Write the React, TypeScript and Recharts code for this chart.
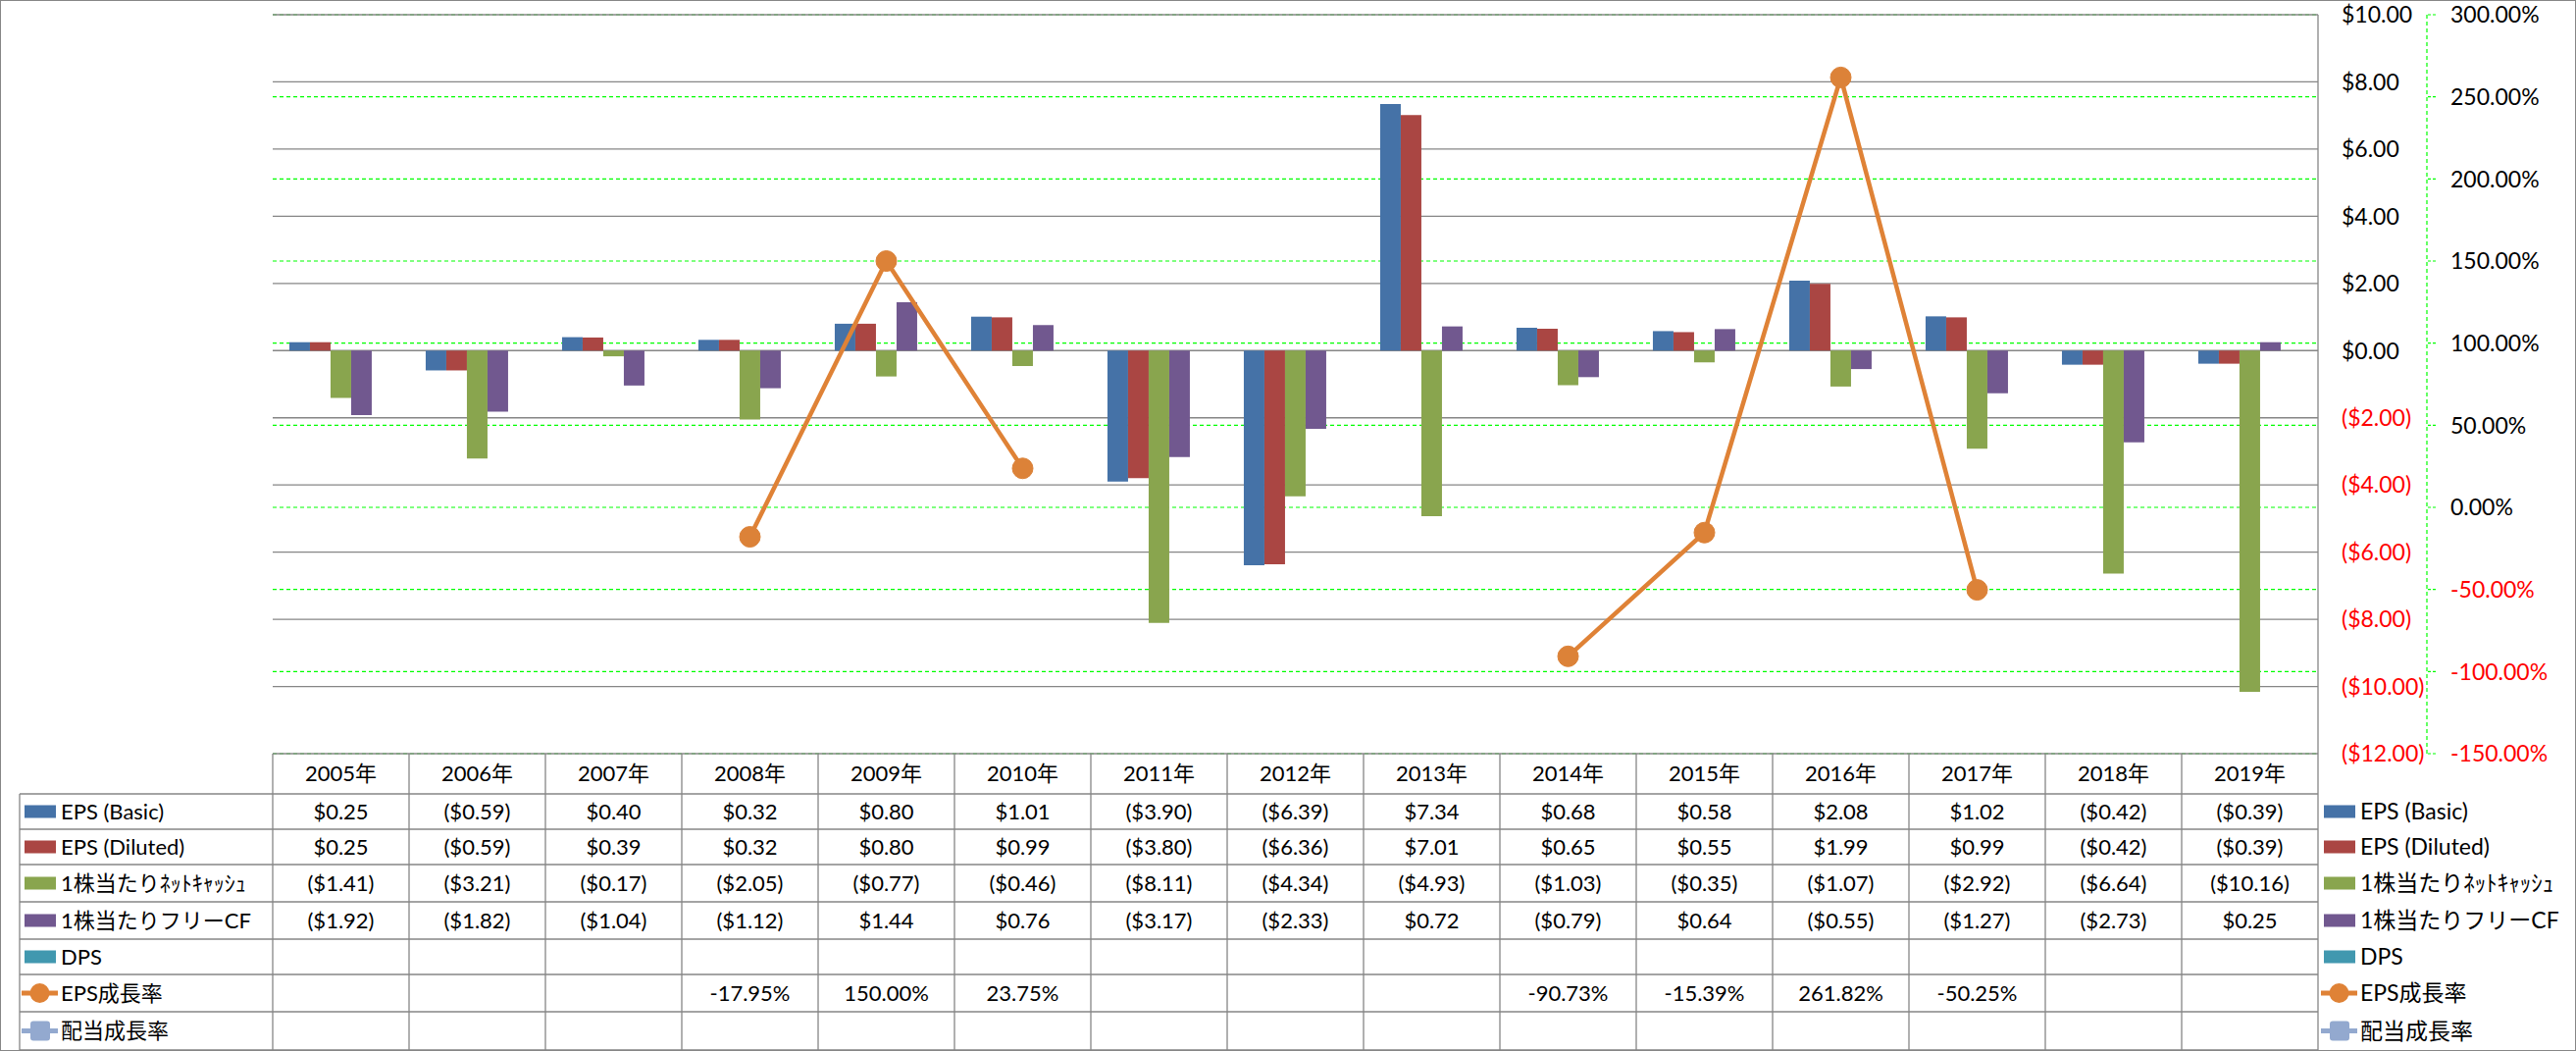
import { ComposedChart, Bar, Line, XAxis, YAxis, CartesianGrid } from "recharts";

const years = ["2005年", "2006年", "2007年", "2008年", "2009年", "2010年", "2011年", "2012年", "2013年", "2014年", "2015年", "2016年", "2017年", "2018年", "2019年"];
const epsBasic = [0.25, -0.59, 0.4, 0.32, 0.8, 1.01, -3.9, -6.39, 7.34, 0.68, 0.58, 2.08, 1.02, -0.42, -0.39];
const epsDiluted = [0.25, -0.59, 0.39, 0.32, 0.8, 0.99, -3.8, -6.36, 7.01, 0.65, 0.55, 1.99, 0.99, -0.42, -0.39];
const netCash = [-1.41, -3.21, -0.17, -2.05, -0.77, -0.46, -8.11, -4.34, -4.93, -1.03, -0.35, -1.07, -2.92, -6.64, -10.16];
const freeCf = [-1.92, -1.82, -1.04, -1.12, 1.44, 0.76, -3.17, -2.33, 0.72, -0.79, 0.64, -0.55, -1.27, -2.73, 0.25];
const dps: (number | null)[] = years.map(() => null);
const epsGrowth = [null, null, null, -17.95, 150.0, 23.75, null, null, null, -90.73, -15.39, 261.82, -50.25, null, null];
const divGrowth: (number | null)[] = years.map(() => null);

const usdTicks = [-12, -10, -8, -6, -4, -2, 0, 2, 4, 6, 8, 10];
const pctTicks = [-150, -100, -50, 0, 50, 100, 150, 200, 250, 300];

const series = [
  { key: "epsBasic", name: "EPS (Basic)", color: "#4572A7", kind: "bar", fmt: "usd" },
  { key: "epsDiluted", name: "EPS (Diluted)", color: "#AA4643", kind: "bar", fmt: "usd" },
  { key: "netCash", name: "1株当たりﾈｯﾄｷｬｯｼｭ", color: "#89A54E", kind: "bar", fmt: "usd" },
  { key: "freeCf", name: "1株当たりフリーCF", color: "#71588F", kind: "bar", fmt: "usd" },
  { key: "dps", name: "DPS", color: "#4198AF", kind: "bar", fmt: "usd" },
  { key: "epsGrowth", name: "EPS成長率", color: "#DF8236", kind: "line", fmt: "pct" },
  { key: "divGrowth", name: "配当成長率", color: "#93A9CF", kind: "square", fmt: "pct" },
];

const data = years.map((year, i) => ({
  year,
  epsBasic: epsBasic[i],
  epsDiluted: epsDiluted[i],
  netCash: netCash[i],
  freeCf: freeCf[i],
  dps: dps[i],
  epsGrowth: epsGrowth[i],
  divGrowth: divGrowth[i],
}));

const FONT = "Lato, 'Noto Sans CJK JP', sans-serif";
const GRID = "#868686";
const W = 2626;
const H = 1071;
const PLOT_TOP = 15;
const PLOT_LEFT = 278;
const PLOT_RIGHT = 2363;
const TABLE_TOP = 768;
const ROW_Y = [809, 845, 881, 919, 957, 993, 1031, 1070];
const BAND = (PLOT_RIGHT - PLOT_LEFT) / years.length;
const USD_AXIS_W = 111;

const usd = (v: number) => (v < 0 ? `($${Math.abs(v).toFixed(2)})` : `$${v.toFixed(2)}`);
const pct = (v: number) => `${v.toFixed(2)}%`;

function LegendKey({ s, x, y }: { s: (typeof series)[number]; x: number; y: number }) {
  if (s.kind === "bar") return <rect x={x} y={y - 6.5} width={32} height={13} fill={s.color} />;
  return (
    <g>
      <line x1={x - 3} x2={x + 34} y1={y} y2={y} stroke={s.color} strokeWidth={5} />
      {s.kind === "line" ? (
        <circle cx={x + 15.5} cy={y} r={10} fill={s.color} />
      ) : (
        <rect x={x + 6} y={y - 10} width={20} height={20} rx={3} fill={s.color} />
      )}
    </g>
  );
}

function TableColumn(props: any) {
  const { x, index } = props;
  const row = data[index] as any;
  const l = x - BAND / 2;
  const r = x + BAND / 2;
  const centers = ROW_Y.slice(0, -1).map((y, i) => (y + ROW_Y[i + 1]) / 2);
  return (
    <g fontFamily={FONT} fontSize={22} fill="#000">
      <line x1={r} x2={r} y1={TABLE_TOP} y2={ROW_Y[ROW_Y.length - 1]} stroke={GRID} strokeWidth={1.3} />
      {ROW_Y.map((y) => (
        <line key={y} x1={l} x2={r} y1={y} y2={y} stroke={GRID} strokeWidth={1.3} />
      ))}
      <text x={x} y={(TABLE_TOP + ROW_Y[0]) / 2} dy="0.36em" textAnchor="middle">
        {row.year}
      </text>
      {series.map((s, i) => {
        const v = row[s.key];
        if (v === null || v === undefined) return null;
        return (
          <text key={s.key} x={x} y={centers[i]} dy="0.36em" textAnchor="middle">
            {s.fmt === "usd" ? usd(v) : pct(v)}
          </text>
        );
      })}
      {index === 0 && (
        <g>
          <line x1={l} x2={l} y1={TABLE_TOP} y2={ROW_Y[ROW_Y.length - 1]} stroke={GRID} strokeWidth={1.3} />
          <line x1={20} x2={20} y1={ROW_Y[0]} y2={ROW_Y[ROW_Y.length - 1]} stroke={GRID} strokeWidth={1.3} />
          {ROW_Y.map((y) => (
            <line key={y} x1={20} x2={l} y1={y} y2={y} stroke={GRID} strokeWidth={1.3} />
          ))}
          {series.map((s, i) => (
            <g key={s.key}>
              <LegendKey s={s} x={25} y={centers[i]} />
              <text x={62} y={centers[i]} dy="0.36em">
                {s.name}
              </text>
            </g>
          ))}
        </g>
      )}
      {index === years.length - 1 &&
        series.map((s, i) => (
          <g key={s.key}>
            <LegendKey s={s} x={2369} y={centers[i]} />
            <text x={2406} y={centers[i]} dy="0.36em" fontSize={23}>
              {s.name}
            </text>
          </g>
        ))}
    </g>
  );
}

function UsdTick(props: any) {
  const { x, y, payload } = props;
  const v = payload.value as number;
  return (
    <text x={x} y={y} dy="0.36em" textAnchor="start" fontFamily={FONT} fontSize={23} fill={v < 0 ? "#FF0000" : "#000"}>
      {usd(v)}
    </text>
  );
}

function PctTick(props: any) {
  const { x, y, payload } = props;
  const v = payload.value as number;
  return (
    <text x={x} y={y} dy="0.36em" textAnchor="start" fontFamily={FONT} fontSize={23} fill={v < 0 ? "#FF0000" : "#000"}>
      {pct(v)}
    </text>
  );
}

export default function App() {
  return (
    <div style={{ position: "absolute", left: 0, top: 0, width: W, height: H, background: "#fff" }}>
      <ComposedChart
        width={W}
        height={H}
        data={data}
        margin={{ top: PLOT_TOP, right: 0, left: PLOT_LEFT, bottom: 0 }}
        barCategoryGap="12.2%"
        barGap={0}
      >
        <CartesianGrid yAxisId="percent" vertical={false} stroke="#00FF00" strokeDasharray="4 3" strokeWidth={1.2} />
        <CartesianGrid yAxisId="dollar" vertical={false} stroke={GRID} strokeWidth={1.3} />
        <XAxis
          dataKey="year"
          height={H - TABLE_TOP}
          interval={0}
          axisLine={false}
          tickLine={false}
          tick={(p: any) => <TableColumn {...p} />}
        />
        <YAxis
          yAxisId="dollar"
          orientation="right"
          width={USD_AXIS_W}
          domain={[-12, 10]}
          ticks={usdTicks}
          axisLine={{ stroke: GRID, strokeWidth: 1.3 }}
          tickLine={false}
          tickSize={0}
          tickMargin={24}
          tick={(p: any) => <UsdTick {...p} />}
        />
        <YAxis
          yAxisId="percent"
          orientation="right"
          width={W - PLOT_RIGHT - USD_AXIS_W}
          domain={[-150, 300]}
          ticks={pctTicks}
          axisLine={{ stroke: "#00FF00", strokeDasharray: "4 3", strokeWidth: 1.2 }}
          tickLine={{ stroke: "#00FF00", strokeDasharray: "3 2", strokeWidth: 1.2 }}
          tickSize={9}
          tickMargin={15}
          tick={(p: any) => <PctTick {...p} />}
        />
        {series
          .filter((s) => s.kind === "bar")
          .map((s) => (
            <Bar key={s.key} yAxisId="dollar" dataKey={s.key} name={s.name} fill={s.color} isAnimationActive={false} />
          ))}
        <Line
          yAxisId="percent"
          dataKey="divGrowth"
          name="配当成長率"
          stroke="#93A9CF"
          strokeWidth={4.5}
          dot={false}
          isAnimationActive={false}
        />
        <Line
          yAxisId="percent"
          dataKey="epsGrowth"
          name="EPS成長率"
          stroke="#DF8236"
          strokeWidth={4.5}
          dot={{ r: 10.5, fill: "#DC8238", stroke: "#DC8238", strokeWidth: 1 }}
          connectNulls={false}
          isAnimationActive={false}
        />
      </ComposedChart>
      <div
        style={{
          position: "absolute",
          left: 0,
          top: 0,
          width: W,
          height: H,
          boxSizing: "border-box",
          border: `1.5px solid ${GRID}`,
          pointerEvents: "none",
        }}
      />
    </div>
  );
}
